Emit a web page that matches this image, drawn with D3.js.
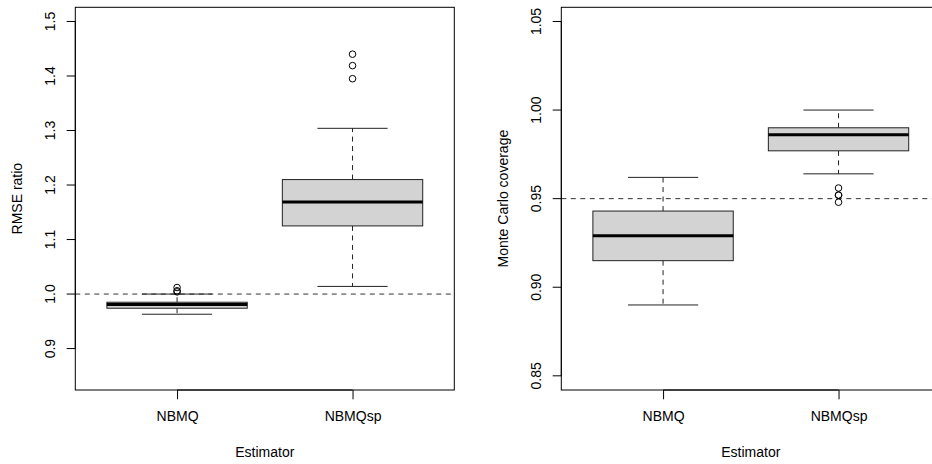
<!DOCTYPE html>
<html>
<head>
<meta charset="utf-8">
<script src="https://cdn.jsdelivr.net/npm/d3@7"></script>
<style>
  body { margin: 0; background: #fff; }
  text { font-family: "Liberation Sans", Arial, sans-serif; fill: #000; }
</style>
</head>
<body>
<script>
svgWidth = 932
svgHeight = 464

// categories
var estimators = ["NBMQ", "NBMQsp"]

// left panel: RMSE ratio (boxplot stats)
var rmseLow = [0.963, 1.014]
var rmseQ1 = [0.974, 1.125]
var rmseMed = [0.981, 1.169]
var rmseQ3 = [0.985, 1.210]
var rmseHigh = [1.000, 1.304]
var rmseOut = [[1.004, 1.006, 1.012], [1.395, 1.419, 1.440]]
var rmseTicks = [0.9, 1.0, 1.1, 1.2, 1.3, 1.4, 1.5]
var rmseLim = [0.85, 1.5]
var rmseRef = 1.0

// right panel: Monte Carlo coverage
var covLow = [0.890, 0.964]
var covQ1 = [0.915, 0.977]
var covMed = [0.929, 0.986]
var covQ3 = [0.943, 0.990]
var covHigh = [0.962, 1.000]
var covOut = [[], [0.948, 0.952, 0.952, 0.956]]
var covTicks = [0.85, 0.90, 0.95, 1.00, 1.05]
var covLim = [0.85, 1.05]
var covRef = 0.95

var svg = d3.select("body").append("svg")
          .attr("width", svgWidth)
          .attr("height", svgHeight)

var dash = "5,4.5"

function drawPanel(left, stats, ylim, ticks, fmt, ref, ytitle) {
    var right = left + 379
    var top = 7.3, bottom = 390
    var ext = (ylim[1] - ylim[0]) * 0.04

    var yScale = d3.scaleLinear()
            .domain([ylim[0] - ext, ylim[1] + ext])
            .range([bottom, top])

    var xScale = d3.scalePoint()
            .domain(estimators)
            .range([left, right])
            .padding(0.58)

    var boxW = xScale.step() * 0.8

    var g = svg.append("g")

    // reference line
    g.append("line")
        .attr("x1", left).attr("x2", right)
        .attr("y1", yScale(ref)).attr("y2", yScale(ref))
        .attr("stroke", "#333").attr("stroke-dasharray", dash)

    var data = estimators.map(function(k, i) {
        return {key: k, low: stats.low[i], q1: stats.q1[i], med: stats.med[i],
                q3: stats.q3[i], high: stats.high[i], out: stats.out[i]}
    })

    var boxes = g.selectAll(".box")
        .data(data)
        .enter().append("g")
          .attr("class", "box")

    // whiskers (dashed)
    boxes.append("line")
        .attr("x1", function(d) { return xScale(d.key) })
        .attr("x2", function(d) { return xScale(d.key) })
        .attr("y1", function(d) { return yScale(d.q3) })
        .attr("y2", function(d) { return yScale(d.high) })
        .attr("stroke", "#222").attr("stroke-dasharray", dash)
    boxes.append("line")
        .attr("x1", function(d) { return xScale(d.key) })
        .attr("x2", function(d) { return xScale(d.key) })
        .attr("y1", function(d) { return yScale(d.q1) })
        .attr("y2", function(d) { return yScale(d.low) })
        .attr("stroke", "#222").attr("stroke-dasharray", dash)

    // whisker caps
    ;["low", "high"].forEach(function(f) {
        boxes.append("line")
            .attr("x1", function(d) { return xScale(d.key) - boxW / 4 })
            .attr("x2", function(d) { return xScale(d.key) + boxW / 4 })
            .attr("y1", function(d) { return yScale(d[f]) })
            .attr("y2", function(d) { return yScale(d[f]) })
            .attr("stroke", "#222")
    })

    // box
    boxes.append("rect")
        .attr("x", function(d) { return xScale(d.key) - boxW / 2 })
        .attr("width", boxW)
        .attr("y", function(d) { return yScale(d.q3) })
        .attr("height", function(d) { return yScale(d.q1) - yScale(d.q3) })
        .attr("fill", "#d3d3d3")
        .attr("stroke", "#222")

    // median
    boxes.append("line")
        .attr("x1", function(d) { return xScale(d.key) - boxW / 2 })
        .attr("x2", function(d) { return xScale(d.key) + boxW / 2 })
        .attr("y1", function(d) { return yScale(d.med) })
        .attr("y2", function(d) { return yScale(d.med) })
        .attr("stroke", "#000").attr("stroke-width", 3)

    // outliers
    boxes.selectAll("circle")
        .data(function(d) { return d.out.map(function(v) { return {key: d.key, v: v} }) })
        .enter().append("circle")
          .attr("cx", function(d) { return xScale(d.key) })
          .attr("cy", function(d) { return yScale(d.v) })
          .attr("r", 3.3)
          .attr("fill", "none")
          .attr("stroke", "#000")

    // plot frame
    g.append("rect")
        .attr("x", left).attr("y", top)
        .attr("width", right - left).attr("height", bottom - top)
        .attr("fill", "none").attr("stroke", "#000")

    // y axis
    var yAxis = d3.axisLeft(yScale)
            .tickValues(ticks)
            .tickFormat(d3.format(fmt))
            .tickSize(8.6)
            .tickSizeOuter(0)
    var ya = g.append("g")
        .attr("transform", "translate(" + left + ", 0)")
        .call(yAxis)
    ya.select(".domain")
        .attr("d", "M0," + yScale(ticks[0]) + "V" + yScale(ticks[ticks.length - 1]))
    ya.selectAll("text")
        .attr("font-size", 14)
        .attr("x", null).attr("dy", null)
        .attr("text-anchor", "middle")
        .attr("transform", function(d) {
            return "translate(-20.3," + yScale(d) + ") rotate(-90)"
        })
        .attr("y", 0)
    ya.selectAll(".tick").attr("transform", null)
    ya.selectAll(".tick line")
        .attr("y1", function(d) { return yScale(d) })
        .attr("y2", function(d) { return yScale(d) })

    // x axis
    var xAxis = d3.axisBottom(xScale)
            .tickSize(9.3)
            .tickSizeOuter(0)
    var xa = g.append("g")
        .attr("transform", "translate(0," + bottom + ")")
        .call(xAxis)
    xa.select(".domain")
        .attr("d", "M" + xScale(estimators[0]) + ",0H" + xScale(estimators[1]))
    xa.selectAll("text")
        .attr("font-size", 14)
        .attr("dy", null)
        .attr("y", 31)

    // titles
    g.append("text")
        .attr("x", (left + right) / 2)
        .attr("y", 457)
        .attr("text-anchor", "middle")
        .attr("font-size", 14)
        .text("Estimator")

    g.append("text")
        .attr("transform", "translate(" + (left - 53.6) + "," + ((top + bottom) / 2) + ") rotate(-90)")
        .attr("text-anchor", "middle")
        .attr("font-size", 14)
        .text(ytitle)
}

drawPanel(75.3,
    {low: rmseLow, q1: rmseQ1, med: rmseMed, q3: rmseQ3, high: rmseHigh, out: rmseOut},
    rmseLim, rmseTicks, ".1f", rmseRef, "RMSE ratio")

drawPanel(561.3,
    {low: covLow, q1: covQ1, med: covMed, q3: covQ3, high: covHigh, out: covOut},
    covLim, covTicks, ".2f", covRef, "Monte Carlo coverage")
</script>
</body>
</html>
